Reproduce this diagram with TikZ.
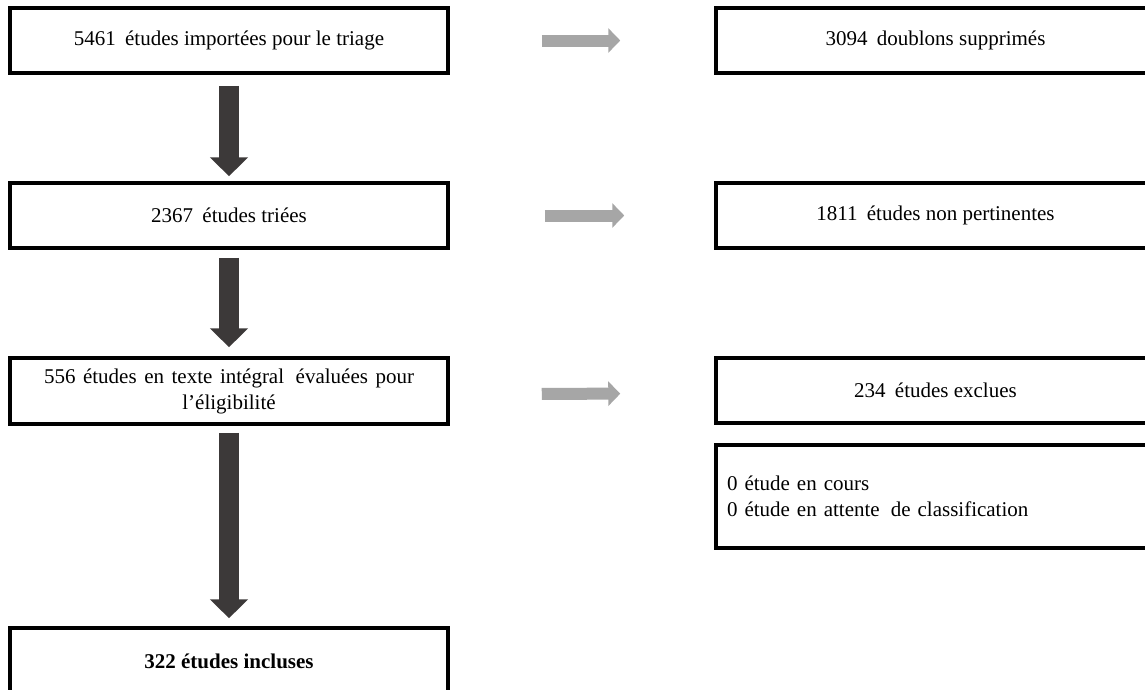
\documentclass[tikz,border=0pt]{standalone}
\usepackage{fontspec}
\setmainfont{Liberation Serif}
\usetikzlibrary{arrows.meta}
\definecolor{darkarr}{RGB}{60,57,57}
\definecolor{grayarr}{RGB}{166,166,166}
\newcommand\boxfont{\fontsize{21}{26}\selectfont}
\newcommand\gap{\hspace{4pt}}
\begin{document}
\begin{tikzpicture}[x=1pt,y=-1pt,
  box/.style={draw=black, line width=3.5pt, minimum width=438pt, minimum height=65pt,
    inner sep=0pt, align=center, font=\boxfont},
  rbox/.style={box, minimum width=439pt},
  darkarrow/.style={draw=darkarr, line width=20pt, -{Triangle[width=37pt,length=19pt]}},
  grayarrow/.style={draw=grayarr, line width=12pt, -{Triangle[width=24pt,length=12pt]}}]
\useasboundingbox (0,0) rectangle (1145,689);
\clip (0,0) rectangle (1145,689);
\fill[white] (0,0) rectangle (1145,689);
% left column
\node[box] (b1) at (229,40.5) {5461\gap{} études importées pour le triage};
\node[box] (b2) at (229,215.5) {2367\gap{} études triées};
\node[box, minimum height=66pt] (b3) at (229,391) {\makebox[370pt][s]{556 études en texte intégral\gap{} évaluées pour}\\l’éligibilité};
\node[box, minimum height=66pt, font=\boxfont\bfseries] (b4) at (229,661) {322 études incluses};
% right column
\node[rbox] (r1) at (935.5,40.5) {3094\gap{} doublons supprimés};
\node[rbox] (r2) at (935.5,215.5) {1811\gap{} études non pertinentes};
\node[rbox] (r3) at (935.5,390.5) {234\gap{} études exclues};
\node[rbox, minimum height=103pt, align=left, text width=417pt] (r4) at (935.5,496.5) {0 étude en cours\\0 étude en attente\gap{} de classification};
% dark arrows
\draw[darkarrow, shorten <=11pt, shorten >=5pt] (b1) -- (b2);
\draw[darkarrow, shorten <=8pt, shorten >=9pt] (b2) -- (b3);
\draw[darkarrow, shorten <=7pt, shorten >=8pt] (b3) -- (b4);
% gray arrows
\draw[grayarrow, shorten <=92pt, shorten >=94pt] (b1) -- (r1);
\draw[grayarrow, shorten <=95pt, shorten >=90pt] (b2) -- (r2);
\draw[grayarrow, shorten <=92pt, shorten >=94pt] ([yshift=-3pt]b3.east) -- ([yshift=-3pt]r3.west);
\end{tikzpicture}
\end{document}
